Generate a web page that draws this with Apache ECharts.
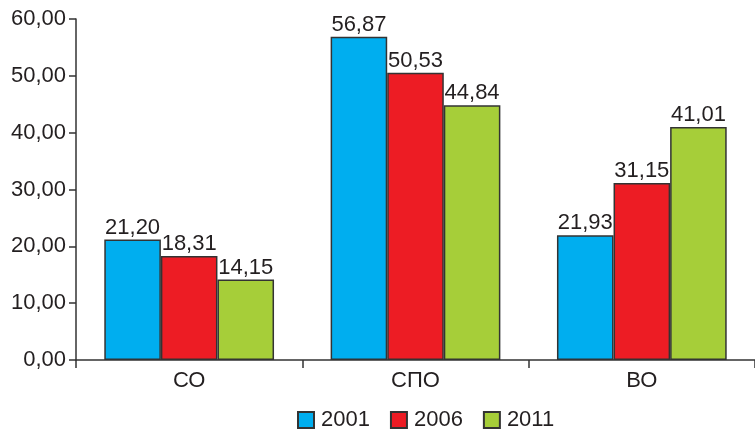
<!DOCTYPE html>
<html>
<head>
<meta charset="utf-8">
<script src="https://cdn.jsdelivr.net/npm/echarts@6/dist/echarts.min.js"></script>
<style>
  html, body { margin: 0; padding: 0; background: #fff; }
  #chart { width: 755px; height: 429px; }
</style>
</head>
<body>
<div id="chart"></div>
<script>
var categories = ['СО', 'СПО', 'ВО'];
var years = ['2001', '2006', '2011'];
var values2001 = [21.20, 56.87, 21.93];
var values2006 = [18.31, 50.53, 31.15];
var values2011 = [14.15, 44.84, 41.01];
var yTicks = { min: 0, max: 60, interval: 10 };

var colors = ['#00aeef', '#ed1c24', '#a6ce39'];
var font = '"Liberation Sans", Arial, sans-serif';
var fontSize = 22;
var textColor = '#231f20';

function fmt(v) {
    return v.toFixed(2).replace('.', ',');
}

var chart = echarts.init(document.getElementById('chart'));

var seriesData = [values2001, values2006, values2011];

var option = {
    backgroundColor: '#fff',
    animation: false,
    color: colors,
    grid: {
        left: 76,
        right: 0,
        top: 19,
        bottom: 69
    },
    legend: {
        top: 409,
        left: 297,
        padding: 0,
        itemWidth: 16,
        itemHeight: 16,
        itemGap: 20,
        icon: 'rect',
        textStyle: {
            fontFamily: font,
            fontSize: fontSize,
            color: textColor,
            padding: [0, 0, 0, 2]
        },
        data: years
    },
    xAxis: {
        type: 'category',
        data: categories,
        axisLine: { lineStyle: { color: '#333', width: 1.5 } },
        axisTick: { show: true, length: 8, lineStyle: { color: '#333', width: 1.5 } },
        axisLabel: {
            fontFamily: font,
            fontSize: fontSize,
            color: textColor,
            margin: 10
        }
    },
    yAxis: {
        type: 'value',
        min: yTicks.min,
        max: yTicks.max,
        interval: yTicks.interval,
        axisLine: { show: true, lineStyle: { color: '#333', width: 1.5 } },
        axisTick: { show: true, length: 7, lineStyle: { color: '#333', width: 1.5 } },
        splitLine: { show: false },
        axisLabel: {
            fontFamily: font,
            fontSize: fontSize,
            color: textColor,
            margin: 10,
            formatter: function (v) { return fmt(v); }
        }
    },
    series: years.map(function (y, i) {
        return {
            name: y,
            type: 'bar',
            data: seriesData[i],
            barGap: '0%',
            barCategoryGap: '25%',
            itemStyle: {
                color: colors[i],
                borderColor: '#333',
                borderWidth: 1.5
            },
            label: {
                show: true,
                position: 'top',
                distance: 1,
                fontFamily: font,
                fontSize: fontSize,
                color: textColor,
                formatter: function (p) { return fmt(p.value); }
            }
        };
    })
};

chart.setOption(option);
</script>
</body>
</html>
